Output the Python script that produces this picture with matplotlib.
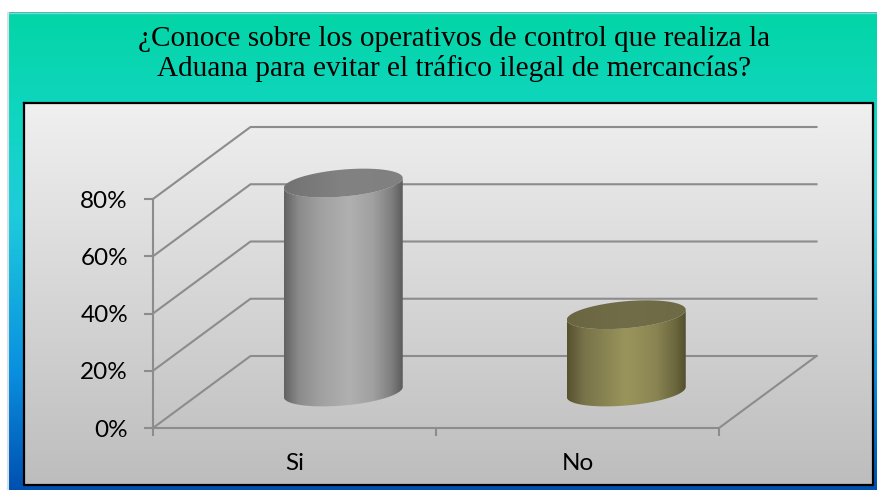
import numpy as np
import matplotlib
matplotlib.use('Agg')
import matplotlib.pyplot as plt
from matplotlib.colors import LinearSegmentedColormap
from matplotlib.path import Path
from matplotlib.patches import PathPatch

W, H = 878, 490

title = '¿Conoce sobre los operativos de control que realiza la\nAduana para evitar el tráfico ilegal de mercancías?'
categories = ['Si', 'No']
values = [73, 27]
y_ticks = [0, 20, 40, 60, 80]
y_labels = ['0%', '20%', '40%', '60%', '80%']

PX_CAT = 283.0
PX_PCT = 229.0 / 80
DEPTH_X = 97.5 / PX_CAT
DEPTH_Y = 72.0 / PX_PCT
GRID = '#8c8c8c'

# cylinder size in pixels
CYL_A, CYL_B, CYL_TILT = 59.5, 13.5, 5.0


def vgradient(ax, extent, colors):
    cmap = LinearSegmentedColormap.from_list('g', colors)
    g = np.linspace(0, 1, 256).reshape(-1, 1)
    return ax.imshow(g, cmap=cmap, extent=extent, aspect='auto', origin='upper', zorder=1)


def ring(t, cx, cy):
    x = cx + CYL_A * np.cos(t) / PX_CAT
    y = cy + (CYL_B * np.sin(t) + CYL_TILT * np.cos(t)) / PX_PCT
    return x, y


def draw_cylinder(ax, i, value, side_colors, top_colors):
    cx = i + 0.5 + DEPTH_X / 2
    base = DEPTH_Y / 2
    top = base + value
    a = CYL_A / PX_CAT

    # body outline: lower half of the base ellipse, upper half of the top one
    t = np.linspace(np.pi, 2 * np.pi, 60)
    xb, yb = ring(t, cx, base)
    xt, yt = ring(t[::-1], cx, top)
    body = Path(np.column_stack([np.r_[xb, xt, xb[0]], np.r_[yb, yt, yb[0]]]))

    grad = np.linspace(0, 1, 256).reshape(1, -1)
    cmap = LinearSegmentedColormap.from_list('side', side_colors)
    im = ax.imshow(grad, cmap=cmap, aspect='auto', zorder=4,
                   extent=(cx - a, cx + a, base - 10, top + 10))
    im.set_clip_path(PathPatch(body, transform=ax.transData))

    ex, ey = ring(np.linspace(0, 2 * np.pi, 90), cx, top)
    cmap = LinearSegmentedColormap.from_list('top', top_colors)
    im = ax.imshow(grad, cmap=cmap, aspect='auto', zorder=5,
                   extent=(cx - a, cx + a, top - 10, top + 10))
    im.set_clip_path(PathPatch(Path(np.column_stack([ex, ey])), transform=ax.transData))


fig = plt.figure(figsize=(W / 100, H / 100), dpi=100, facecolor='white')

# page layer in pixel coordinates
bg = fig.add_axes([0, 0, 1, 1])
bg.axis('off')
vgradient(bg, (9, W, H, 13), [(0, '#03d6a6'), (0.25, '#12d5c4'), (0.42, '#1eccdc'),
                              (0.75, '#0a90e0'), (1, '#0050b0')])
bg.plot([9, W], [13, 13], color='#9cc4dc', lw=1, zorder=2)
bg.plot([8, 8], [13, H], color='#d8e0e4', lw=1.5, zorder=2)
vgradient(bg, (24, 873, 485, 103), ['#f0f0f0', '#bdbdbd'])
bg.plot([24, 873, 873, 24, 24], [103, 103, 485, 485, 103], color='black', lw=1.6, zorder=3)
bg.set_xlim(0, W)
bg.set_ylim(H, 0)

# chart layer: front face of the 3D box, left room above 80% for the depth
y_top = 105
ax = fig.add_axes([153 / W, 1 - 428 / H, 566 / W, y_top * PX_PCT / H])
ax.patch.set_alpha(0)
for s in ax.spines.values():
    s.set_visible(False)

for v in y_ticks:
    ax.plot([0, DEPTH_X, 2 + DEPTH_X], [v, v + DEPTH_Y, v + DEPTH_Y],
            color=GRID, lw=1.5, clip_on=False, zorder=2)
ax.plot([0, 2, 2 + DEPTH_X], [0, 0, DEPTH_Y], color=GRID, lw=1.5, clip_on=False, zorder=2)
ax.plot([0, 0], [0, 80], color=GRID, lw=1.5, clip_on=False, zorder=2)

draw_cylinder(ax, 0, values[0],
              [(0, '#626262'), (0.12, '#8a8a8a'), (0.3, '#a0a0a0'), (0.55, '#b0b0b0'),
               (0.75, '#a0a0a0'), (0.9, '#808080'), (1, '#5c5c5c')],
              ['#727272', '#828282', '#808080'])
draw_cylinder(ax, 1, values[1],
              [(0, '#56522f'), (0.15, '#79744a'), (0.5, '#9a945c'), (0.75, '#8a8452'),
               (0.9, '#6e6a40'), (1, '#54502e')],
              ['#6a6641', '#716d48', '#6e6a45'])

ax.set_xlim(0, 2)
ax.set_ylim(0, y_top)
ax.set_xticks([0, 1, 2])
ax.set_xticklabels([])
ax.set_xticks([0.5, 1.5], minor=True)
ax.set_xticklabels(categories, minor=True, fontsize=17.5, family='Lato', color='black')
ax.set_yticks(y_ticks)
ax.set_yticklabels(y_labels, fontsize=17.5, family='Lato', color='black')
ax.tick_params(axis='x', which='major', length=6, width=1.5, color=GRID)
ax.tick_params(axis='x', which='minor', length=0, pad=18)
ax.tick_params(axis='y', length=6.5, width=1.5, color=GRID, pad=11.5)

fig.text(454 / W, 1 - 54 / H, title, ha='center', va='center', family='Liberation Serif',
         fontsize=21.1, color='black', linespacing=1.14)

fig.savefig('out.png', dpi=100, facecolor='white')
